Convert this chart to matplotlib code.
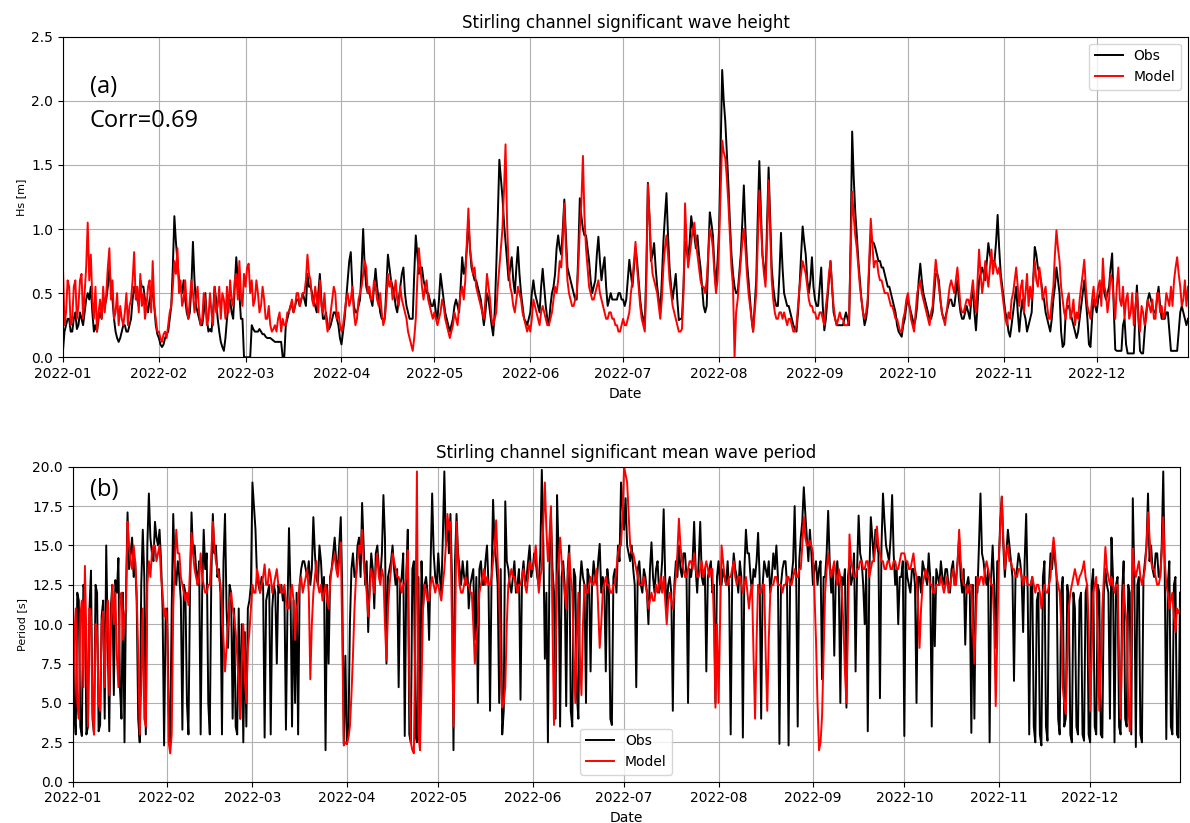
import matplotlib
matplotlib.use("Agg")
import matplotlib.pyplot as plt
import matplotlib.dates as mdates
import numpy as np

# readings at 00:00 and 12:00 of each day, 2022-01-01 .. 2022-12-30, one line per month
hs_obs_00 = [
    .05, .25, .30, .20, .35, .25, .30, .35, .50, .55, .20, .20, .35, .45, .45, .70, .45, .20, .12, .20, .25, .20, .30, .55, .45, .60, .55, .40, .45, .50, .25,
    .15, .08, .15, .20, .40, 1.10, .75, .55, .60, .35, .35, .90, .40, .30, .25, .50, .20, .20, .55, .30, .12, .05, .30, .45, .30, .78, .50, .30,
    .00, .00, .25, .20, .20, .20, .18, .15, .15, .13, .12, .12, .00, .25, .35, .40, .40, .45, .45, .45, .65, .55, .45, .35, .65, .30, .35, .22, .30, .35, .25,
    .10, .30, .60, .82, .40, .35, .45, 1.00, .55, .50, .40, .69, .45, .30, .30, .80, .60, .50, .35, .55, .70, .40, .30, .30, .95, .65, .70, .55, .50, .40,
    .45, .30, .65, .45, .30, .20, .30, .45, .35, .78, .70, 1.07, .70, .60, .55, .45, .25, .50, .35, .17, .70, 1.54, 1.25, .90, .60, .78, .50, .86, .50, .30, .25,
    .35, .60, .45, .35, .69, .40, .25, .50, .65, .95, .80, 1.23, .70, .60, .50, .45, 1.24, 1.00, .95, .75, .50, .60, .94, .60, .78, .40, .50, .45, .45, .50,
    .45, .45, .76, .55, .85, .60, .35, .25, 1.36, .75, .89, .55, .35, .90, 1.28, .70, .45, .65, .29, .30, .90, .75, 1.10, .95, .95, .70, .40, .40, 1.13, .95, .55,
    1.00, 2.24, 1.84, 1.35, .80, .55, .50, .80, 1.34, .75, .45, .20, .60, 1.53, .80, .60, 1.48, .70, .45, .40, .97, .50, .40, .35, .25, .20, .55, 1.02, .80, .50, .78,
    .45, .40, .70, .21, .45, .75, .35, .25, .25, .25, .35, .25, 1.76, 1.13, .75, .45, .25, .40, .95, .89, .80, .75, .70, .60, .55, .45, .35, .20, .16, .30,
    .45, .35, .25, .40, .73, .50, .40, .30, .35, .65, .60, .35, .30, .40, .45, .40, .60, .35, .30, .40, .30, .55, .21, .60, .70, .60, .89, .75, .75, 1.11, .65,
    .45, .30, .16, .35, .55, .20, .45, .30, .25, .35, .86, .70, .60, .45, .30, .20, .45, .70, .50, .08, .35, .40, .30, .20, .20, .40, .60, .30, .08, .45,
    .35, .50, .60, .45, .55, .81, .06, .05, .05, .30, .03, .03, .03, .56, .05, .03, .35, .50, .40, .35, .55, .30, .30, .35, .05, .05, .05, .35, .35, .25,
]
hs_obs_12 = [
    .20, .30, .20, .30, .22, .35, .25, .45, .45, .35, .25, .30, .30, .40, .55, .55, .30, .15, .15, .25, .20, .25, .45, .50, .40, .55, .45, .35, .50, .40, .18,
    .10, .10, .18, .30, .70, .90, .60, .50, .45, .30, .55, .60, .35, .25, .35, .30, .22, .35, .45, .20, .08, .15, .40, .35, .55, .60, .30, .00,
    .00, .00, .22, .20, .22, .18, .16, .15, .14, .12, .12, .12, .00, .30, .40, .35, .45, .40, .50, .40, .55, .50, .40, .50, .45, .30, .25, .25, .35, .30, .15,
    .20, .45, .75, .55, .35, .40, .70, .70, .50, .45, .55, .55, .35, .30, .55, .70, .55, .40, .45, .65, .50, .35, .30, .65, .80, .70, .60, .50, .45, .40,
    .35, .45, .55, .35, .25, .25, .40, .40, .55, .65, .85, .85, .65, .60, .50, .35, .35, .45, .25, .35, 1.10, 1.40, 1.05, .75, .70, .60, .70, .65, .40, .28, .30,
    .50, .50, .40, .55, .55, .30, .40, .55, .85, .85, 1.00, .95, .65, .55, .45, .80, 1.10, .95, .85, .60, .55, .80, .75, .70, .55, .45, .45, .45, .50, .45,
    .40, .60, .65, .70, .75, .45, .30, .70, 1.10, .80, .70, .45, .60, 1.10, .95, .55, .55, .45, .30, .55, .85, .90, 1.00, .85, .80, .55, .35, .80, 1.05, .70, .75,
    1.60, 2.00, 1.60, 1.05, .65, .50, .65, 1.05, 1.00, .60, .30, .40, 1.10, 1.15, .70, 1.05, 1.10, .55, .40, .65, .70, .45, .40, .30, .22, .35, .80, .90, .60, .60, .55,
    .40, .55, .40, .30, .60, .55, .30, .25, .25, .30, .30, .90, 1.40, .95, .60, .35, .30, .70, .90, .85, .75, .70, .65, .55, .50, .40, .25, .18, .25, .40,
    .40, .30, .30, .60, .60, .45, .35, .30, .50, .65, .45, .30, .35, .45, .40, .50, .45, .30, .35, .35, .45, .35, .40, .65, .65, .75, .80, .75, .90, .85, .55,
    .35, .20, .25, .45, .35, .35, .35, .20, .30, .60, .80, .65, .50, .35, .25, .30, .55, .60, .20, .10, .40, .35, .25, .15, .30, .50, .45, .10, .30, .40,
    .45, .55, .50, .50, .70, .40, .05, .05, .25, .10, .03, .03, .35, .30, .03, .20, .45, .45, .35, .45, .40, .30, .35, .20, .05, .05, .20, .40, .30, .30,
]
hs_model_00 = [
    .70, .35, .55, .30, .60, .40, .65, .50, 1.05, .80, .30, .20, .45, .55, .50, .85, .60, .35, .25, .30, .35, .25, .45, .82, .55, .65, .50, .40, .60, .75, .30,
    .20, .12, .20, .25, .40, .75, .85, .60, .45, .40, .45, .50, .45, .35, .30, .45, .30, .35, .55, .40, .30, .45, .55, .60, .40, .65, .75, .40,
    .55, .73, .60, .45, .50, .40, .45, .30, .25, .22, .20, .35, .30, .25, .35, .45, .40, .50, .45, .50, .80, .60, .40, .45, .60, .35, .30, .25, .45, .50, .35,
    .20, .35, .50, .45, .35, .30, .50, .65, .70, .55, .45, .55, .40, .35, .30, .65, .60, .50, .45, .55, .40, .30, .15, .05, .30, .85, .55, .55, .45, .35,
    .35, .25, .35, .40, .25, .15, .25, .30, .40, .55, .60, 1.16, .75, .70, .50, .40, .30, .65, .45, .25, .35, .70, 1.00, 1.66, .70, .50, .35, .55, .45, .30, .20,
    .20, .45, .35, .25, .40, .30, .25, .35, .55, .60, .70, 1.20, .60, .45, .40, .50, 1.00, 1.57, .85, .55, .45, .50, .60, .45, .35, .30, .35, .30, .25, .20,
    .30, .25, .35, .60, .90, .55, .30, .20, 1.35, .80, .60, .50, .30, .70, .95, .60, .40, .30, .20, .22, 1.20, .70, .90, 1.05, .80, .60, .55, .60, 1.00, .85, .50,
    .90, 1.69, 1.55, 1.20, .70, .00, .45, .75, 1.00, .65, .40, .20, .50, 1.30, .80, .55, 1.38, .60, .35, .30, .35, .35, .25, .30, .20, .25, .55, .75, .65, .45, .40,
    .35, .30, .35, .25, .50, .75, .40, .25, .35, .30, .25, .30, 1.29, .95, .70, .45, .30, .45, 1.08, .70, .75, .60, .55, .50, .45, .40, .30, .25, .20, .35,
    .50, .30, .20, .50, .60, .45, .35, .25, .40, .76, .55, .35, .25, .45, .60, .50, .70, .40, .35, .45, .40, .60, .35, .84, .50, .75, .55, .84, .75, .65, .60,
    .40, .25, .30, .50, .70, .40, .60, .50, .40, .45, .75, .55, .60, .50, .40, .30, .55, .99, .75, .45, .30, .50, .35, .25, .30, .55, .76, .40, .30, .55,
    .45, .60, .77, .50, .45, .60, .30, .70, .40, .30, .50, .35, .25, .50, .20, .35, .30, .40, .45, .30, .50, .40, .35, .45, .55, .60, .78, .55, .45, .40,
]
hs_model_12 = [
    .25, .60, .25, .55, .30, .60, .30, .70, .60, .45, .55, .35, .30, .35, .70, .45, .30, .50, .40, .25, .50, .40, .60, .45, .35, .40, .30, .55, .35, .40, .20,
    .15, .18, .15, .35, .55, .65, .50, .40, .60, .30, .60, .35, .55, .25, .50, .25, .50, .25, .35, .55, .50, .30, .35, .45, .60, .45, .50, .65,
    .70, .50, .40, .60, .35, .55, .30, .40, .20, .25, .30, .20, .25, .35, .40, .35, .50, .40, .50, .60, .65, .45, .55, .35, .40, .50, .20, .35, .55, .30, .25,
    .25, .45, .40, .55, .25, .45, .55, .75, .50, .45, .60, .45, .50, .25, .45, .55, .45, .60, .40, .45, .35, .20, .10, .15, .60, .70, .45, .60, .40, .30,
    .30, .30, .45, .30, .20, .20, .35, .25, .50, .45, .90, .85, .65, .55, .45, .35, .45, .55, .30, .30, .55, .85, 1.30, 1.05, .55, .40, .45, .50, .35, .25, .25,
    .30, .40, .30, .35, .35, .25, .30, .45, .50, .75, .90, .85, .50, .40, .45, .70, 1.20, 1.10, .70, .50, .45, .55, .50, .40, .30, .35, .30, .25, .20, .25,
    .25, .30, .50, .75, .70, .40, .25, .60, 1.10, .65, .55, .40, .45, .85, .80, .50, .35, .25, .20, .50, .90, .80, 1.00, .90, .70, .55, .50, .80, .95, .65, .60,
    1.30, 1.60, 1.40, .95, .55, .35, .60, .90, .85, .50, .30, .35, .90, 1.05, .65, .90, 1.00, .45, .30, .35, .30, .30, .30, .25, .20, .40, .65, .70, .55, .40, .35,
    .30, .35, .30, .40, .65, .55, .30, .30, .30, .25, .25, .80, 1.10, .85, .55, .35, .35, .75, .90, .75, .65, .60, .50, .50, .40, .35, .30, .20, .30, .45,
    .40, .25, .35, .55, .50, .40, .30, .35, .60, .65, .45, .30, .35, .55, .55, .60, .55, .35, .40, .45, .50, .45, .60, .65, .60, .65, .70, .65, .70, .70, .50,
    .30, .35, .45, .60, .55, .55, .35, .65, .55, .60, .60, .70, .45, .55, .30, .45, .80, .85, .55, .35, .45, .30, .45, .35, .45, .65, .55, .35, .45, .40,
    .55, .40, .55, .35, .65, .45, .55, .45, .55, .45, .30, .50, .40, .30, .40, .25, .45, .35, .30, .50, .35, .30, .50, .40, .40, .70, .65, .40, .60, .55,
]
tm_obs_00 = [
    12.4, 3.0, 11.5, 2.9, 12.0, 3.5, 13.4, 3.0, 12.0, 3.6, 11.5, 15.0, 3.2, 12.5, 12.8, 14.2, 4.0, 2.5, 17.1, 14.5, 13.0, 11.5, 2.5, 16.0, 3.0, 18.3, 14.5, 16.5, 15.0, 14.0, 2.3,
    11.0, 2.5, 17.0, 12.5, 13.0, 3.3, 12.0, 3.0, 17.1, 15.0, 12.5, 3.0, 16.0, 14.5, 3.0, 17.0, 15.0, 13.5, 3.0, 17.0, 8.5, 12.0, 11.0, 3.0, 4.0, 2.5, 3.5, 11.5,
    19.0, 16.0, 12.5, 13.0, 2.8, 12.0, 3.0, 12.5, 7.5, 12.0, 11.5, 3.3, 16.1, 3.5, 5.0, 3.0, 13.5, 14.0, 13.0, 12.5, 16.8, 13.0, 15.0, 12.0, 2.0, 7.5, 13.5, 15.5, 13.5, 16.8, 2.4,
    2.4, 10.0, 14.5, 13.0, 15.5, 17.7, 12.5, 9.5, 14.5, 11.0, 15.0, 13.0, 18.2, 7.5, 13.5, 15.0, 12.5, 6.0, 13.0, 2.9, 16.0, 2.5, 14.0, 2.5, 3.0, 11.0, 13.0, 9.0, 18.3, 13.0,
    14.5, 12.0, 19.7, 16.5, 17.0, 2.0, 17.0, 13.5, 14.0, 12.5, 11.0, 13.0, 9.0, 5.0, 14.0, 12.5, 15.0, 4.5, 17.9, 14.0, 5.0, 3.0, 17.8, 13.5, 12.0, 14.0, 12.5, 5.2, 14.0, 13.0, 15.0,
    13.5, 14.0, 12.5, 19.8, 7.8, 2.5, 17.0, 12.0, 18.2, 3.5, 14.0, 4.8, 15.0, 3.5, 13.0, 4.0, 14.0, 12.5, 13.5, 7.0, 14.0, 12.5, 15.1, 13.0, 7.0, 12.5, 3.6, 13.5, 15.0, 19.0,
    16.0, 15.0, 14.0, 13.5, 6.0, 14.0, 12.0, 13.0, 10.0, 15.2, 12.0, 14.0, 12.5, 17.3, 11.0, 13.0, 4.5, 14.0, 15.0, 13.0, 14.5, 5.0, 13.0, 16.5, 12.0, 16.5, 12.5, 7.0, 13.5, 12.0, 5.0,
    14.0, 12.5, 13.0, 14.0, 3.0, 14.5, 13.0, 14.0, 2.8, 16.0, 14.5, 12.0, 13.0, 15.8, 4.0, 14.0, 13.0, 12.0, 14.5, 15.0, 2.4, 13.5, 14.0, 2.3, 13.0, 17.5, 3.5, 15.5, 18.7, 15.5, 16.0,
    12.5, 14.0, 13.5, 6.5, 13.0, 17.2, 12.0, 8.0, 14.0, 5.0, 12.5, 4.7, 14.0, 13.0, 7.0, 16.9, 14.0, 10.0, 3.2, 16.8, 14.0, 15.0, 5.3, 18.3, 15.0, 14.0, 18.2, 12.5, 10.0, 13.0,
    2.9, 13.0, 12.0, 13.5, 5.0, 13.0, 14.0, 13.0, 14.5, 3.5, 8.6, 13.0, 14.0, 12.5, 13.5, 12.0, 14.0, 13.0, 15.5, 12.0, 8.7, 13.0, 3.1, 4.0, 12.0, 18.3, 14.0, 12.5, 2.5, 15.0, 8.5,
    14.0, 18.1, 13.0, 16.0, 14.0, 6.4, 13.5, 14.0, 9.5, 17.0, 3.0, 13.0, 2.5, 12.0, 2.3, 14.0, 2.6, 14.5, 15.0, 13.0, 3.0, 13.0, 4.0, 11.5, 2.5, 11.0, 3.0, 12.0, 2.6, 12.5,
    2.5, 13.5, 3.0, 12.0, 2.8, 13.5, 12.0, 15.5, 2.5, 13.0, 3.0, 14.0, 3.5, 12.0, 18.0, 2.2, 13.0, 2.5, 14.0, 18.3, 15.0, 13.0, 14.5, 13.0, 19.7, 2.7, 14.0, 3.0, 13.0, 2.8,
]
tm_obs_12 = [
    4.5, 12.0, 3.5, 12.5, 3.0, 11.0, 4.0, 12.5, 3.2, 10.5, 4.0, 9.0, 11.0, 5.5, 12.0, 6.0, 12.0, 12.0, 13.5, 15.5, 14.0, 4.0, 12.5, 13.0, 15.0, 15.5, 14.0, 15.5, 16.0, 11.0, 10.5,
    4.5, 11.0, 13.5, 14.0, 11.5, 12.5, 5.0, 12.0, 14.5, 13.5, 14.0, 12.0, 13.5, 5.0, 13.0, 14.5, 13.0, 12.0, 14.0, 11.0, 12.5, 4.0, 3.5, 11.0, 10.0, 9.5, 11.0, 12.5,
    17.5, 13.0, 12.0, 12.5, 11.5, 12.5, 11.0, 12.0, 12.5, 12.5, 12.0, 11.0, 12.0, 11.5, 12.0, 12.5, 14.0, 13.5, 14.0, 13.5, 14.5, 12.5, 14.0, 13.0, 12.5, 13.0, 14.5, 14.0, 15.0, 12.0, 8.0,
    3.0, 13.5, 13.0, 15.0, 13.0, 15.0, 14.0, 12.5, 13.5, 14.5, 13.5, 14.5, 15.5, 13.0, 14.0, 13.5, 13.5, 12.5, 14.5, 13.0, 3.0, 13.5, 3.0, 13.0, 14.0, 12.5, 12.0, 14.0, 14.5, 12.5,
    13.0, 15.5, 15.0, 14.5, 13.0, 14.0, 14.5, 12.5, 13.0, 14.0, 12.5, 13.5, 13.0, 13.5, 12.5, 14.0, 12.5, 13.0, 15.0, 12.5, 13.5, 4.5, 14.0, 12.5, 13.0, 12.0, 13.5, 13.0, 12.5, 14.0, 13.0,
    14.5, 13.0, 14.5, 15.0, 12.0, 13.5, 13.5, 4.0, 14.5, 13.0, 12.5, 13.5, 4.5, 13.5, 5.5, 12.5, 13.0, 5.0, 13.0, 12.5, 13.0, 14.0, 12.0, 12.5, 13.5, 4.0, 13.0, 12.0, 14.0, 17.5,
    18.0, 14.5, 15.0, 12.5, 13.5, 12.5, 13.5, 12.0, 13.5, 13.0, 13.5, 12.0, 14.0, 13.0, 12.5, 12.0, 12.5, 13.0, 13.5, 14.5, 13.0, 13.5, 14.0, 13.5, 14.0, 13.0, 13.5, 13.0, 14.0, 12.5, 13.0,
    12.5, 13.5, 12.5, 12.0, 13.0, 13.5, 12.0, 13.0, 13.5, 14.5, 13.0, 13.5, 14.0, 13.0, 12.5, 13.5, 14.0, 13.0, 13.5, 13.0, 12.5, 14.0, 12.5, 12.5, 14.0, 13.0, 14.0, 16.5, 17.0, 14.0, 14.5,
    13.5, 12.5, 14.0, 13.0, 14.5, 14.0, 13.5, 13.0, 12.5, 13.0, 13.5, 13.0, 12.5, 14.5, 13.5, 14.5, 12.5, 13.5, 13.0, 15.5, 16.0, 14.5, 15.0, 16.5, 14.5, 15.5, 14.5, 13.5, 13.0, 14.0,
    14.0, 12.5, 13.5, 12.5, 13.0, 12.0, 13.5, 12.5, 13.0, 13.0, 13.5, 12.5, 13.0, 13.5, 12.5, 13.5, 12.5, 14.0, 13.0, 13.5, 12.5, 12.0, 12.5, 13.0, 15.0, 14.5, 13.0, 13.5, 13.0, 12.5, 14.0,
    16.5, 15.0, 14.5, 15.0, 13.0, 13.0, 14.5, 13.0, 14.0, 12.0, 12.5, 3.5, 11.5, 3.0, 13.0, 3.5, 12.5, 13.5, 14.0, 4.0, 12.0, 3.5, 12.5, 3.0, 12.0, 3.5, 11.5, 3.0, 12.0, 3.0,
    12.5, 3.5, 12.5, 3.0, 12.0, 12.5, 4.0, 13.0, 12.5, 3.5, 12.0, 4.0, 12.5, 3.0, 13.0, 12.5, 3.0, 13.0, 15.0, 14.0, 13.5, 14.5, 13.0, 15.0, 13.0, 12.5, 3.5, 12.5, 3.0, 12.0,
]
tm_model_00 = [
    3.2, 11.0, 4.0, 11.5, 13.7, 3.5, 10.5, 3.0, 9.5, 4.5, 10.8, 10.0, 5.5, 12.5, 12.0, 6.0, 12.0, 10.5, 16.5, 14.0, 15.0, 12.0, 3.0, 11.0, 3.5, 14.0, 14.5, 15.0, 14.5, 13.0, 10.5,
    10.0, 1.8, 11.0, 16.0, 14.5, 12.5, 11.5, 11.2, 15.8, 13.5, 12.5, 14.5, 12.5, 12.0, 12.5, 16.5, 14.0, 13.0, 11.0, 7.0, 10.0, 12.0, 10.5, 8.0, 4.0, 10.0, 5.0, 9.5,
    12.5, 12.0, 13.0, 12.5, 13.8, 12.5, 13.0, 12.5, 13.5, 12.5, 12.0, 11.5, 11.0, 12.5, 9.0, 11.5, 13.0, 12.5, 13.5, 6.5, 12.0, 14.0, 12.0, 11.5, 12.5, 11.0, 13.5, 14.5, 13.0, 15.2, 2.3,
    2.4, 3.5, 8.0, 13.0, 15.0, 16.0, 13.0, 10.5, 13.5, 12.0, 14.5, 12.5, 13.0, 7.7, 12.5, 14.5, 13.5, 13.0, 12.0, 12.5, 14.7, 2.5, 1.8, 19.7, 2.0, 11.0, 12.0, 11.5, 13.0, 12.0,
    12.5, 11.5, 13.5, 17.0, 16.5, 3.5, 16.5, 12.5, 12.0, 13.0, 12.5, 12.0, 7.5, 10.0, 12.5, 13.5, 13.0, 12.5, 14.0, 16.6, 12.0, 4.7, 6.0, 12.5, 13.5, 13.0, 12.0, 12.5, 13.5, 12.0, 14.0,
    13.5, 15.0, 12.0, 13.5, 19.0, 14.0, 17.5, 3.6, 13.0, 15.5, 13.0, 11.0, 14.5, 12.0, 5.0, 12.0, 5.5, 12.5, 12.0, 13.0, 12.5, 13.5, 8.5, 12.0, 13.0, 12.5, 12.0, 12.5, 14.5, 15.0,
    20.0, 19.0, 15.0, 14.5, 13.5, 12.5, 12.5, 12.5, 11.0, 12.0, 11.5, 12.0, 13.0, 13.0, 10.0, 12.0, 11.0, 13.0, 16.7, 14.0, 13.0, 13.5, 14.0, 14.5, 13.0, 13.5, 13.0, 14.0, 13.0, 13.5, 4.7,
    5.0, 15.0, 13.0, 12.5, 13.0, 14.0, 12.5, 13.0, 12.0, 13.0, 11.0, 12.5, 4.0, 12.5, 12.0, 12.5, 4.5, 12.0, 12.5, 13.0, 12.5, 12.0, 12.5, 13.0, 12.5, 13.5, 13.0, 13.5, 16.8, 15.0, 15.3,
    14.5, 9.0, 2.0, 4.2, 12.0, 14.5, 13.0, 14.0, 12.5, 13.0, 10.0, 5.0, 15.7, 13.5, 13.0, 13.5, 14.0, 13.5, 14.0, 13.5, 14.0, 16.2, 14.5, 14.0, 13.5, 14.0, 13.5, 14.0, 13.5, 14.5,
    14.5, 14.0, 13.5, 14.5, 13.0, 8.5, 12.5, 13.5, 13.0, 12.5, 12.0, 12.5, 13.0, 12.0, 13.0, 12.5, 13.5, 12.5, 16.0, 13.0, 12.5, 12.0, 12.5, 7.5, 13.0, 13.0, 12.5, 14.0, 13.0, 12.5, 4.8,
    14.0, 18.1, 13.5, 15.0, 14.0, 13.5, 13.0, 13.5, 12.5, 13.0, 12.5, 13.0, 12.0, 12.5, 11.0, 12.5, 12.0, 13.0, 15.5, 13.0, 12.0, 6.0, 4.3, 11.0, 12.5, 13.5, 12.5, 13.2, 14.0, 12.5,
    4.5, 12.0, 13.0, 4.5, 11.0, 14.9, 13.0, 13.0, 12.0, 12.5, 4.0, 12.5, 10.0, 3.2, 14.8, 13.0, 14.0, 12.5, 13.5, 17.1, 14.0, 13.5, 12.5, 13.0, 16.8, 12.5, 11.0, 12.0, 9.5, 10.7,
]
tm_model_12 = [
    9.0, 5.0, 10.5, 6.0, 9.0, 11.0, 4.5, 10.0, 5.0, 10.0, 6.0, 11.5, 9.5, 10.0, 8.0, 11.5, 9.0, 11.0, 15.0, 13.5, 14.0, 8.0, 6.0, 4.0, 12.5, 13.0, 15.0, 14.0, 15.0, 12.0, 11.0,
    2.5, 3.0, 14.0, 14.5, 13.0, 12.0, 12.0, 13.5, 14.5, 13.0, 13.0, 13.0, 12.0, 12.5, 14.5, 15.0, 13.5, 12.5, 9.0, 8.5, 11.5, 11.0, 9.5, 6.0, 7.5, 6.5, 8.5, 11.0,
    12.0, 13.5, 12.0, 13.0, 12.5, 13.5, 12.0, 13.0, 12.5, 12.0, 12.5, 11.0, 12.0, 11.5, 11.0, 12.5, 12.0, 13.0, 12.0, 10.0, 13.0, 12.5, 12.5, 12.0, 11.5, 12.5, 14.0, 13.5, 14.0, 9.0, 2.5,
    2.8, 5.5, 11.0, 14.0, 14.5, 14.0, 12.0, 12.0, 13.0, 13.5, 13.0, 13.5, 10.0, 11.0, 13.5, 14.0, 13.0, 12.5, 12.5, 13.0, 6.0, 2.0, 10.0, 3.0, 6.0, 12.5, 11.5, 12.5, 12.5, 12.5,
    12.0, 12.5, 15.0, 16.0, 10.0, 9.0, 14.0, 12.0, 12.5, 12.5, 12.0, 10.0, 9.0, 12.0, 13.0, 12.5, 12.5, 13.0, 15.0, 14.0, 7.0, 5.0, 10.0, 13.0, 13.0, 12.5, 12.5, 13.0, 12.5, 13.0, 13.5,
    14.0, 13.5, 13.0, 16.5, 16.0, 15.5, 10.0, 8.0, 14.0, 14.0, 12.0, 13.0, 13.0, 8.0, 9.0, 8.0, 10.0, 12.0, 12.5, 12.5, 13.0, 11.0, 10.0, 12.5, 12.5, 12.0, 12.5, 13.5, 15.0, 17.0,
    19.5, 17.0, 14.5, 14.0, 13.0, 12.5, 13.0, 12.0, 11.5, 11.5, 12.5, 12.5, 12.0, 11.5, 11.5, 11.5, 12.0, 14.5, 15.0, 13.5, 13.0, 14.0, 13.5, 13.5, 13.0, 14.0, 13.5, 13.5, 13.5, 10.0, 10.0,
    10.0, 14.0, 12.5, 13.0, 13.5, 13.0, 13.0, 12.5, 12.5, 12.0, 12.0, 8.0, 9.0, 12.0, 12.5, 8.0, 9.0, 12.5, 13.0, 12.5, 12.5, 12.5, 13.0, 12.5, 13.0, 13.0, 13.5, 15.0, 15.5, 15.0, 15.0,
    12.0, 5.0, 2.5, 8.0, 13.5, 13.5, 13.5, 13.0, 13.5, 12.0, 7.0, 10.0, 14.0, 13.0, 13.5, 14.0, 13.5, 14.0, 13.0, 14.0, 15.0, 15.0, 14.0, 13.5, 14.0, 13.5, 14.0, 13.5, 14.0, 14.5,
    14.0, 13.5, 14.0, 13.5, 11.0, 11.0, 13.0, 13.0, 12.5, 12.0, 12.5, 12.5, 12.5, 12.5, 12.0, 13.0, 12.5, 14.0, 14.0, 12.5, 12.0, 12.5, 10.0, 10.5, 12.5, 13.0, 13.5, 13.5, 12.5, 10.0, 9.0,
    16.0, 15.5, 14.5, 14.0, 13.5, 13.0, 13.5, 13.0, 13.0, 12.5, 12.5, 12.5, 12.5, 12.0, 12.0, 12.0, 12.5, 14.5, 14.5, 12.5, 10.0, 5.0, 8.0, 12.0, 13.0, 13.0, 13.0, 13.5, 13.0, 10.0,
    8.0, 12.5, 9.0, 7.0, 13.0, 13.5, 12.5, 12.5, 12.5, 8.0, 9.0, 11.0, 5.0, 9.0, 13.5, 13.5, 13.0, 13.0, 15.0, 15.5, 13.5, 13.0, 12.5, 14.5, 14.0, 12.0, 11.5, 10.5, 11.0, 11.0,
]


def merge(at00, at12):
    return np.column_stack([at00, at12]).ravel()


hs_obs = merge(hs_obs_00, hs_obs_12)
hs_model = merge(hs_model_00, hs_model_12)
tm_obs = merge(tm_obs_00, tm_obs_12)
tm_model = merge(tm_model_00, tm_model_12)
times = np.datetime64("2022-01-01T00") + np.arange(len(hs_obs)) * np.timedelta64(12, "h")

fig = plt.figure(figsize=(11.9, 8.23), dpi=100)
ax1 = fig.add_axes([0.0529, 0.5659, 0.9454, 0.3896])
ax2 = fig.add_axes([0.0611, 0.0502, 0.9305, 0.3827])

panels = [
    (ax1, hs_obs, hs_model, "Stirling channel significant wave height", "Hs [m]", (0, 2.5), 0.5, "upper right"),
    (ax2, tm_obs, tm_model, "Stirling channel significant mean wave period", "Period [s]", (0, 20), 2.5, "lower center"),
]
for ax, obs, model, title, ylab, ylim, ystep, legloc in panels:
    ax.plot(times, obs, color="k", lw=1.4, label="Obs")
    ax.plot(times, model, color="r", lw=1.4, label="Model")
    ax.set_xlim(times[0], times[-1])
    ax.set_ylim(*ylim)
    ax.set_yticks(np.arange(ylim[0], ylim[1] + ystep / 2, ystep))
    ax.yaxis.set_major_formatter(plt.FormatStrFormatter("%.1f"))
    ax.xaxis.set_major_locator(mdates.MonthLocator())
    ax.xaxis.set_major_formatter(mdates.DateFormatter("%Y-%m"))
    ax.grid(True)
    ax.set_title(title)
    ax.set_xlabel("Date")
    ax.set_ylabel(ylab, fontsize=8)
    ax.legend(loc=legloc)

fig.text(0.0756, 0.887, "(a)", family="Open Sans", fontsize=17)
fig.text(0.0756, 0.846, "Corr=0.69", family="Open Sans", fontsize=17)
fig.text(0.0756, 0.397, "(b)", family="Open Sans", fontsize=17)

fig.savefig("out.png", dpi=100)
